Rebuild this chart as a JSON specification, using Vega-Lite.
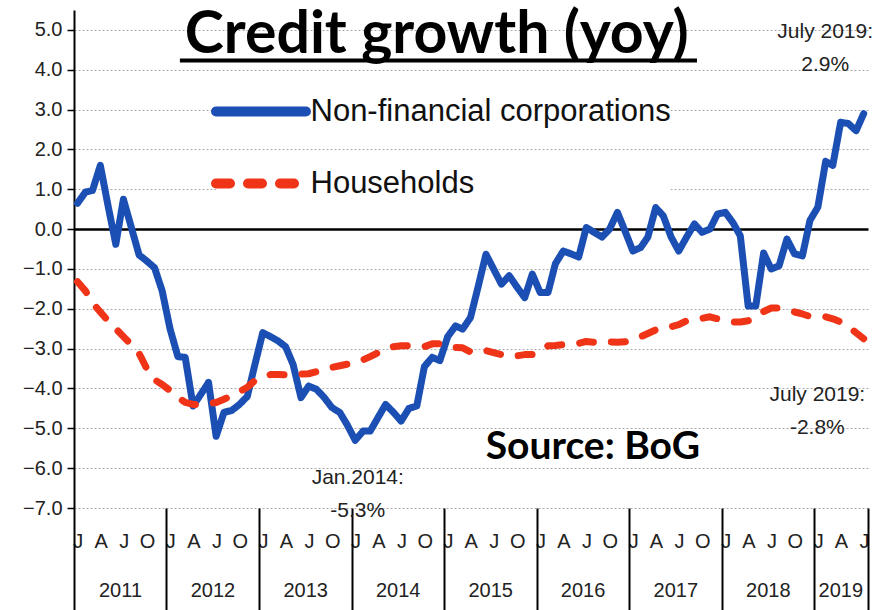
{
  "$schema": "https://vega.github.io/schema/vega-lite/v6.json",
  "width": 794,
  "height": 498,
  "autosize": "none",
  "padding": {"left": 74, "top": 10, "right": 13, "bottom": 102},
  "background": "white",
  "config": {"view": {"stroke": null}},
  "datasets": {
    "credit": [
      {"date":"2011-01-15","series":"Non-financial corporations","value":0.65},
      {"date":"2011-02-15","series":"Non-financial corporations","value":0.93},
      {"date":"2011-03-15","series":"Non-financial corporations","value":0.97},
      {"date":"2011-04-15","series":"Non-financial corporations","value":1.6},
      {"date":"2011-05-15","series":"Non-financial corporations","value":0.6},
      {"date":"2011-06-15","series":"Non-financial corporations","value":-0.38},
      {"date":"2011-07-15","series":"Non-financial corporations","value":0.75},
      {"date":"2011-08-15","series":"Non-financial corporations","value":0.05},
      {"date":"2011-09-15","series":"Non-financial corporations","value":-0.65},
      {"date":"2011-10-15","series":"Non-financial corporations","value":-0.8},
      {"date":"2011-11-15","series":"Non-financial corporations","value":-0.97},
      {"date":"2011-12-15","series":"Non-financial corporations","value":-1.55},
      {"date":"2012-01-15","series":"Non-financial corporations","value":-2.5},
      {"date":"2012-02-15","series":"Non-financial corporations","value":-3.2},
      {"date":"2012-03-15","series":"Non-financial corporations","value":-3.22},
      {"date":"2012-04-15","series":"Non-financial corporations","value":-4.44},
      {"date":"2012-05-15","series":"Non-financial corporations","value":-4.15},
      {"date":"2012-06-15","series":"Non-financial corporations","value":-3.85},
      {"date":"2012-07-15","series":"Non-financial corporations","value":-5.2},
      {"date":"2012-08-15","series":"Non-financial corporations","value":-4.6},
      {"date":"2012-09-15","series":"Non-financial corporations","value":-4.55},
      {"date":"2012-10-15","series":"Non-financial corporations","value":-4.4},
      {"date":"2012-11-15","series":"Non-financial corporations","value":-4.2},
      {"date":"2012-12-15","series":"Non-financial corporations","value":-3.4},
      {"date":"2013-01-15","series":"Non-financial corporations","value":-2.6},
      {"date":"2013-02-15","series":"Non-financial corporations","value":-2.7},
      {"date":"2013-03-15","series":"Non-financial corporations","value":-2.8},
      {"date":"2013-04-15","series":"Non-financial corporations","value":-2.95},
      {"date":"2013-05-15","series":"Non-financial corporations","value":-3.4},
      {"date":"2013-06-15","series":"Non-financial corporations","value":-4.23},
      {"date":"2013-07-15","series":"Non-financial corporations","value":-3.94},
      {"date":"2013-08-15","series":"Non-financial corporations","value":-4.02},
      {"date":"2013-09-15","series":"Non-financial corporations","value":-4.23},
      {"date":"2013-10-15","series":"Non-financial corporations","value":-4.48},
      {"date":"2013-11-15","series":"Non-financial corporations","value":-4.6},
      {"date":"2013-12-15","series":"Non-financial corporations","value":-4.92},
      {"date":"2014-01-15","series":"Non-financial corporations","value":-5.3},
      {"date":"2014-02-15","series":"Non-financial corporations","value":-5.07},
      {"date":"2014-03-15","series":"Non-financial corporations","value":-5.07},
      {"date":"2014-04-15","series":"Non-financial corporations","value":-4.73},
      {"date":"2014-05-15","series":"Non-financial corporations","value":-4.4},
      {"date":"2014-06-15","series":"Non-financial corporations","value":-4.6},
      {"date":"2014-07-15","series":"Non-financial corporations","value":-4.82},
      {"date":"2014-08-15","series":"Non-financial corporations","value":-4.5},
      {"date":"2014-09-15","series":"Non-financial corporations","value":-4.44},
      {"date":"2014-10-15","series":"Non-financial corporations","value":-3.45},
      {"date":"2014-11-15","series":"Non-financial corporations","value":-3.22},
      {"date":"2014-12-15","series":"Non-financial corporations","value":-3.3},
      {"date":"2015-01-15","series":"Non-financial corporations","value":-2.7},
      {"date":"2015-02-15","series":"Non-financial corporations","value":-2.43},
      {"date":"2015-03-15","series":"Non-financial corporations","value":-2.51},
      {"date":"2015-04-15","series":"Non-financial corporations","value":-2.22},
      {"date":"2015-05-15","series":"Non-financial corporations","value":-1.45},
      {"date":"2015-06-15","series":"Non-financial corporations","value":-0.63},
      {"date":"2015-07-15","series":"Non-financial corporations","value":-1.0},
      {"date":"2015-08-15","series":"Non-financial corporations","value":-1.38},
      {"date":"2015-09-15","series":"Non-financial corporations","value":-1.17},
      {"date":"2015-10-15","series":"Non-financial corporations","value":-1.45},
      {"date":"2015-11-15","series":"Non-financial corporations","value":-1.72},
      {"date":"2015-12-15","series":"Non-financial corporations","value":-1.13},
      {"date":"2016-01-15","series":"Non-financial corporations","value":-1.59},
      {"date":"2016-02-15","series":"Non-financial corporations","value":-1.59},
      {"date":"2016-03-15","series":"Non-financial corporations","value":-0.87},
      {"date":"2016-04-15","series":"Non-financial corporations","value":-0.55},
      {"date":"2016-05-15","series":"Non-financial corporations","value":-0.62},
      {"date":"2016-06-15","series":"Non-financial corporations","value":-0.7},
      {"date":"2016-07-15","series":"Non-financial corporations","value":0.04},
      {"date":"2016-08-15","series":"Non-financial corporations","value":-0.08},
      {"date":"2016-09-15","series":"Non-financial corporations","value":-0.2},
      {"date":"2016-10-15","series":"Non-financial corporations","value":0.0},
      {"date":"2016-11-15","series":"Non-financial corporations","value":0.42},
      {"date":"2016-12-15","series":"Non-financial corporations","value":-0.05},
      {"date":"2017-01-15","series":"Non-financial corporations","value":-0.55},
      {"date":"2017-02-15","series":"Non-financial corporations","value":-0.46},
      {"date":"2017-03-15","series":"Non-financial corporations","value":-0.2},
      {"date":"2017-04-15","series":"Non-financial corporations","value":0.54},
      {"date":"2017-05-15","series":"Non-financial corporations","value":0.33},
      {"date":"2017-06-15","series":"Non-financial corporations","value":-0.2},
      {"date":"2017-07-15","series":"Non-financial corporations","value":-0.55},
      {"date":"2017-08-15","series":"Non-financial corporations","value":-0.2},
      {"date":"2017-09-15","series":"Non-financial corporations","value":0.13},
      {"date":"2017-10-15","series":"Non-financial corporations","value":-0.08},
      {"date":"2017-11-15","series":"Non-financial corporations","value":0.0},
      {"date":"2017-12-15","series":"Non-financial corporations","value":0.38},
      {"date":"2018-01-15","series":"Non-financial corporations","value":0.42},
      {"date":"2018-02-15","series":"Non-financial corporations","value":0.15},
      {"date":"2018-03-15","series":"Non-financial corporations","value":-0.17},
      {"date":"2018-04-15","series":"Non-financial corporations","value":-1.93},
      {"date":"2018-05-15","series":"Non-financial corporations","value":-1.93},
      {"date":"2018-06-15","series":"Non-financial corporations","value":-0.6},
      {"date":"2018-07-15","series":"Non-financial corporations","value":-1.0},
      {"date":"2018-08-15","series":"Non-financial corporations","value":-0.92},
      {"date":"2018-09-15","series":"Non-financial corporations","value":-0.25},
      {"date":"2018-10-15","series":"Non-financial corporations","value":-0.62},
      {"date":"2018-11-15","series":"Non-financial corporations","value":-0.67},
      {"date":"2018-12-15","series":"Non-financial corporations","value":0.22},
      {"date":"2019-01-15","series":"Non-financial corporations","value":0.55},
      {"date":"2019-02-15","series":"Non-financial corporations","value":1.7},
      {"date":"2019-03-15","series":"Non-financial corporations","value":1.6},
      {"date":"2019-04-15","series":"Non-financial corporations","value":2.68},
      {"date":"2019-05-15","series":"Non-financial corporations","value":2.65},
      {"date":"2019-06-15","series":"Non-financial corporations","value":2.47},
      {"date":"2019-07-15","series":"Non-financial corporations","value":2.9},
      {"date":"2011-01-15","series":"Households","value":-1.32},
      {"date":"2011-02-15","series":"Households","value":-1.55},
      {"date":"2011-03-15","series":"Households","value":-1.85},
      {"date":"2011-04-15","series":"Households","value":-2.08},
      {"date":"2011-05-15","series":"Households","value":-2.3},
      {"date":"2011-06-15","series":"Households","value":-2.5},
      {"date":"2011-07-15","series":"Households","value":-2.7},
      {"date":"2011-08-15","series":"Households","value":-2.9},
      {"date":"2011-09-15","series":"Households","value":-3.12},
      {"date":"2011-10-15","series":"Households","value":-3.5},
      {"date":"2011-11-15","series":"Households","value":-3.78},
      {"date":"2011-12-15","series":"Households","value":-3.9},
      {"date":"2012-01-15","series":"Households","value":-4.05},
      {"date":"2012-02-15","series":"Households","value":-4.22},
      {"date":"2012-03-15","series":"Households","value":-4.35},
      {"date":"2012-04-15","series":"Households","value":-4.4},
      {"date":"2012-05-15","series":"Households","value":-4.4},
      {"date":"2012-06-15","series":"Households","value":-4.38},
      {"date":"2012-07-15","series":"Households","value":-4.35},
      {"date":"2012-08-15","series":"Households","value":-4.27},
      {"date":"2012-09-15","series":"Households","value":-4.17},
      {"date":"2012-10-15","series":"Households","value":-4.08},
      {"date":"2012-11-15","series":"Households","value":-3.97},
      {"date":"2012-12-15","series":"Households","value":-3.8},
      {"date":"2013-01-15","series":"Households","value":-3.72},
      {"date":"2013-02-15","series":"Households","value":-3.65},
      {"date":"2013-03-15","series":"Households","value":-3.65},
      {"date":"2013-04-15","series":"Households","value":-3.66},
      {"date":"2013-05-15","series":"Households","value":-3.66},
      {"date":"2013-06-15","series":"Households","value":-3.64},
      {"date":"2013-07-15","series":"Households","value":-3.63},
      {"date":"2013-08-15","series":"Households","value":-3.58},
      {"date":"2013-09-15","series":"Households","value":-3.52},
      {"date":"2013-10-15","series":"Households","value":-3.47},
      {"date":"2013-11-15","series":"Households","value":-3.43},
      {"date":"2013-12-15","series":"Households","value":-3.39},
      {"date":"2014-01-15","series":"Households","value":-3.35},
      {"date":"2014-02-15","series":"Households","value":-3.28},
      {"date":"2014-03-15","series":"Households","value":-3.2},
      {"date":"2014-04-15","series":"Households","value":-3.1},
      {"date":"2014-05-15","series":"Households","value":-3.0},
      {"date":"2014-06-15","series":"Households","value":-2.95},
      {"date":"2014-07-15","series":"Households","value":-2.93},
      {"date":"2014-08-15","series":"Households","value":-2.93},
      {"date":"2014-09-15","series":"Households","value":-2.95},
      {"date":"2014-10-15","series":"Households","value":-2.95},
      {"date":"2014-11-15","series":"Households","value":-2.88},
      {"date":"2014-12-15","series":"Households","value":-2.88},
      {"date":"2015-01-15","series":"Households","value":-2.95},
      {"date":"2015-02-15","series":"Households","value":-2.97},
      {"date":"2015-03-15","series":"Households","value":-2.98},
      {"date":"2015-04-15","series":"Households","value":-3.08},
      {"date":"2015-05-15","series":"Households","value":-3.1},
      {"date":"2015-06-15","series":"Households","value":-3.05},
      {"date":"2015-07-15","series":"Households","value":-3.1},
      {"date":"2015-08-15","series":"Households","value":-3.15},
      {"date":"2015-09-15","series":"Households","value":-3.2},
      {"date":"2015-10-15","series":"Households","value":-3.18},
      {"date":"2015-11-15","series":"Households","value":-3.15},
      {"date":"2015-12-15","series":"Households","value":-3.15},
      {"date":"2016-01-15","series":"Households","value":-3.05},
      {"date":"2016-02-15","series":"Households","value":-2.93},
      {"date":"2016-03-15","series":"Households","value":-2.92},
      {"date":"2016-04-15","series":"Households","value":-2.9},
      {"date":"2016-05-15","series":"Households","value":-2.89},
      {"date":"2016-06-15","series":"Households","value":-2.87},
      {"date":"2016-07-15","series":"Households","value":-2.82},
      {"date":"2016-08-15","series":"Households","value":-2.84},
      {"date":"2016-09-15","series":"Households","value":-2.85},
      {"date":"2016-10-15","series":"Households","value":-2.83},
      {"date":"2016-11-15","series":"Households","value":-2.84},
      {"date":"2016-12-15","series":"Households","value":-2.83},
      {"date":"2017-01-15","series":"Households","value":-2.76},
      {"date":"2017-02-15","series":"Households","value":-2.7},
      {"date":"2017-03-15","series":"Households","value":-2.62},
      {"date":"2017-04-15","series":"Households","value":-2.53},
      {"date":"2017-05-15","series":"Households","value":-2.46},
      {"date":"2017-06-15","series":"Households","value":-2.45},
      {"date":"2017-07-15","series":"Households","value":-2.4},
      {"date":"2017-08-15","series":"Households","value":-2.3},
      {"date":"2017-09-15","series":"Households","value":-2.27},
      {"date":"2017-10-15","series":"Households","value":-2.24},
      {"date":"2017-11-15","series":"Households","value":-2.2},
      {"date":"2017-12-15","series":"Households","value":-2.25},
      {"date":"2018-01-15","series":"Households","value":-2.3},
      {"date":"2018-02-15","series":"Households","value":-2.33},
      {"date":"2018-03-15","series":"Households","value":-2.33},
      {"date":"2018-04-15","series":"Households","value":-2.3},
      {"date":"2018-05-15","series":"Households","value":-2.18},
      {"date":"2018-06-15","series":"Households","value":-2.07},
      {"date":"2018-07-15","series":"Households","value":-1.98},
      {"date":"2018-08-15","series":"Households","value":-1.98},
      {"date":"2018-09-15","series":"Households","value":-2.02},
      {"date":"2018-10-15","series":"Households","value":-2.08},
      {"date":"2018-11-15","series":"Households","value":-2.13},
      {"date":"2018-12-15","series":"Households","value":-2.19},
      {"date":"2019-01-15","series":"Households","value":-2.19},
      {"date":"2019-02-15","series":"Households","value":-2.2},
      {"date":"2019-03-15","series":"Households","value":-2.25},
      {"date":"2019-04-15","series":"Households","value":-2.33},
      {"date":"2019-05-15","series":"Households","value":-2.45},
      {"date":"2019-06-15","series":"Households","value":-2.6},
      {"date":"2019-07-15","series":"Households","value":-2.75}
    ],
    "notes": [
      {"date":"2019-02-13","value":4.95,"label":"July 2019:\n2.9%"},
      {"date":"2019-01-13","value":-4.16,"label":"July 2019:\n-2.8%"},
      {"date":"2014-01-25","value":-6.25,"label":"Jan.2014:\n-5.3%"}
    ],
    "heading": [
      {"date":"2014-12-03","value":4.43,"label":"Credit growth (yoy)"}
    ],
    "underline": [
      {"date":"2012-02-23","date2":"2017-09-25","value":4.23}
    ],
    "source": [
      {"date":"2016-08-10","value":-5.47,"label":"Source: BoG"}
    ]
  },
  "encoding": {
    "y": {
      "field": "value", "type": "quantitative", "title": null,
      "scale": {"domain": [-7, 5.5], "nice": false, "zero": false},
      "axis": {
        "values": [-7,-6,-5,-4,-3,-2,-1,0,1,2,3,4,5],
        "format": ".1f",
        "labelFont": "Liberation Sans", "labelFontSize": 20, "labelColor": "#222",
        "labelPadding": 5, "tickSize": 7, "tickColor": "#000", "tickWidth": 1.5,
        "domainColor": "#000", "domainWidth": 2,
        "grid": true,
        "gridColor": {"condition": {"test": "datum.value === 0", "value": "#000"}, "value": "#aaaaaa"},
        "gridDash": {"condition": {"test": "datum.value === 0", "value": []}, "value": [2, 2]},
        "gridWidth": {"condition": {"test": "datum.value === 0", "value": 2.5}, "value": 1}
      }
    }
  },
  "resolve": {"axis": {"x": "independent"}},
  "layer": [
    {
      "data": {"name": "credit"},
      "mark": {"type": "line", "strokeWidth": 7, "strokeCap": "round", "strokeJoin": "round"},
      "encoding": {
        "x": {
          "field": "date", "type": "temporal", "title": null,
          "scale": {"type": "utc", "domain": [{"year": 2011, "month": 1, "date": 1, "utc": true}, {"year": 2019, "month": 8, "date": 1, "utc": true}]},
          "axis": {
            "orient": "bottom", "domain": false, "ticks": false, "grid": false,
            "tickCount": {"interval": "month", "step": 3},
            "labelExpr": "['J','F','M','A','M','J','J','A','S','O','N','D'][utcmonth(datum.value)]",
            "labelOffset": 3.85, "labelAlign": "center", "labelFlush": false, "labelOverlap": false, "labelBound": false,
            "labelFont": "Liberation Sans", "labelFontSize": 20, "labelColor": "#222", "labelPadding": 23
          }
        },
        "color": {
          "field": "series", "type": "nominal", "title": null,
          "scale": {"domain": ["Non-financial corporations", "Households"], "range": ["#1c4fb3", "#ef3418"]},
          "legend": {
            "orient": "none", "legendX": 142, "legendY": 85, "direction": "vertical", "title": null, "padding": 0,
            "symbolType": "M-4,0H4", "symbolSize": 506, "symbolStrokeWidth": 10, "symbolOffset": 28.5,
            "labelOffset": 33, "labelFont": "Liberation Sans", "labelFontSize": 31, "labelColor": "#111", "labelLimit": 700,
            "rowPadding": 31,
            "encode": {
              "symbols": {"update": {"strokeCap": {"value": "round"}}},
              "entries": {"update": {"fill": {"value": "white"}, "height": {"value": 33}, "width": {"signal": "datum.index === 0 ? 474 : 291"}}}
            }
          }
        },
        "strokeDash": {
          "field": "series", "type": "nominal", "title": null,
          "scale": {"domain": ["Non-financial corporations", "Households"], "range": [[1, 0], [14, 18]]},
          "legend": {
            "orient": "none", "legendX": 142, "legendY": 85, "direction": "vertical", "title": null, "padding": 0,
            "symbolType": "M-4,0H4", "symbolSize": 506, "symbolStrokeWidth": 10, "symbolOffset": 28.5,
            "labelOffset": 33, "labelFont": "Liberation Sans", "labelFontSize": 31, "labelColor": "#111", "labelLimit": 700,
            "rowPadding": 31,
            "encode": {
              "symbols": {"update": {"strokeCap": {"value": "round"}}},
              "entries": {"update": {"fill": {"value": "white"}, "height": {"value": 33}, "width": {"signal": "datum.index === 0 ? 474 : 291"}}}
            }
          }
        }
      }
    },
    {
      "data": {"name": "notes"},
      "mark": {"type": "text", "font": "Liberation Sans", "fontSize": 21, "color": "#222", "align": "center", "baseline": "middle", "lineBreak": "\n", "lineHeight": 33},
      "encoding": {
        "x": {
          "field": "date", "type": "temporal", "title": null,
          "axis": {
            "orient": "bottom", "domain": false, "ticks": false, "grid": false,
            "tickCount": {"interval": "year"},
            "labelExpr": "utcFormat(datum.value, '%Y')",
            "labelOffset": {"condition": {"test": "utcyear(datum.value) === 2019", "value": 26}, "value": 46},
            "labelAlign": "center", "labelFlush": false, "labelOverlap": false, "labelBound": false,
            "labelFont": "Liberation Sans", "labelFontSize": 20, "labelColor": "#222", "labelPadding": 72
          }
        },
        "text": {"field": "label"}
      }
    },
    {
      "data": {"name": "heading"},
      "mark": {"type": "text", "font": "Lato", "fontWeight": "bold", "fontSize": 59, "color": "#000", "align": "center", "baseline": "alphabetic"},
      "encoding": {
        "x": {
          "field": "date", "type": "temporal", "title": null,
          "axis": {
            "orient": "bottom", "domain": false, "grid": false, "labels": false,
            "values": [
              {"year": 2011, "month": 1, "date": 1, "utc": true},
              {"year": 2012, "month": 1, "date": 1, "utc": true},
              {"year": 2013, "month": 1, "date": 1, "utc": true},
              {"year": 2014, "month": 1, "date": 1, "utc": true},
              {"year": 2015, "month": 1, "date": 1, "utc": true},
              {"year": 2016, "month": 1, "date": 1, "utc": true},
              {"year": 2017, "month": 1, "date": 1, "utc": true},
              {"year": 2018, "month": 1, "date": 1, "utc": true},
              {"year": 2019, "month": 1, "date": 1, "utc": true},
              {"year": 2019, "month": 8, "date": 1, "utc": true}
            ],
            "ticks": true, "tickSize": 102, "tickWidth": 2, "tickColor": "#000"
          }
        },
        "text": {"field": "label"}
      }
    },
    {
      "data": {"name": "underline"},
      "mark": {"type": "rule", "strokeWidth": 4, "color": "#000"},
      "encoding": {
        "x": {"field": "date", "type": "temporal", "title": null, "axis": null},
        "x2": {"field": "date2"}
      }
    },
    {
      "data": {"name": "source"},
      "mark": {"type": "text", "font": "Lato", "fontWeight": "bold", "fontSize": 39, "color": "#000", "align": "center", "baseline": "middle"},
      "encoding": {
        "x": {"field": "date", "type": "temporal", "title": null, "axis": null},
        "text": {"field": "label"}
      }
    }
  ]
}
